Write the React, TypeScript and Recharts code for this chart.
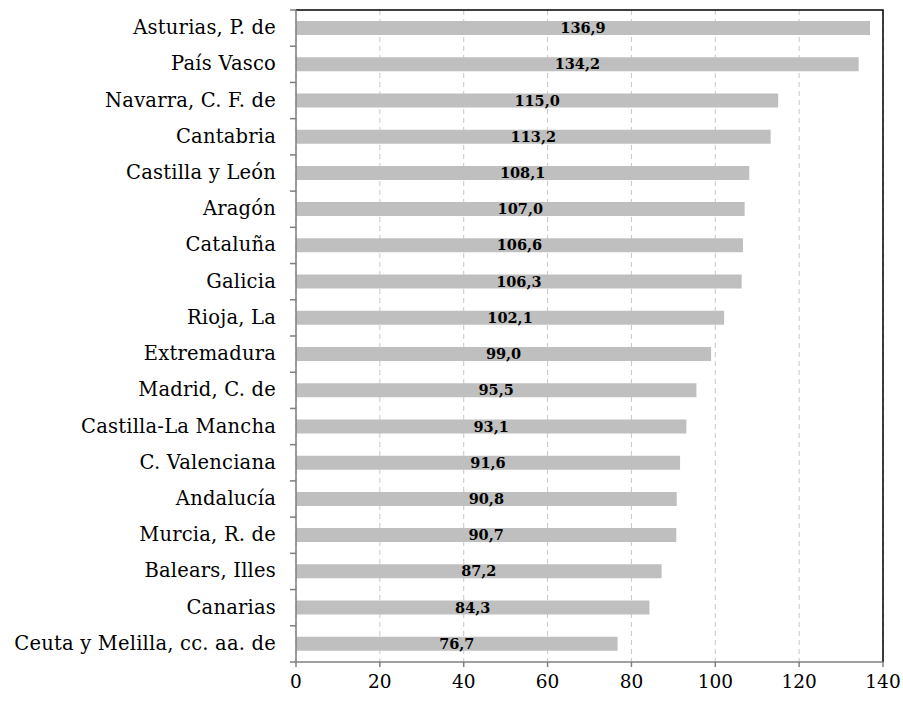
import { BarChart, Bar, XAxis, YAxis, CartesianGrid, LabelList, ReferenceArea } from "recharts";

const regions = [
  "Asturias, P. de",
  "País Vasco",
  "Navarra, C. F. de",
  "Cantabria",
  "Castilla y León",
  "Aragón",
  "Cataluña",
  "Galicia",
  "Rioja, La",
  "Extremadura",
  "Madrid, C. de",
  "Castilla-La Mancha",
  "C. Valenciana",
  "Andalucía",
  "Murcia, R. de",
  "Balears, Illes",
  "Canarias",
  "Ceuta y Melilla, cc. aa. de",
];
const values = [
  136.9, 134.2, 115.0, 113.2, 108.1, 107.0, 106.6, 106.3, 102.1, 99.0, 95.5,
  93.1, 91.6, 90.8, 90.7, 87.2, 84.3, 76.7,
];
const xTicks = [0, 20, 40, 60, 80, 100, 120, 140];

const data = regions.map((name, i) => ({ name, value: values[i] }));

const FONT = "'DejaVu Serif', serif";
const BAND = 652 / regions.length;

const RegionTick = (props: any) => {
  const { x, y, payload, index } = props;
  return (
    <g>
      <line x1={x - 6} x2={x} y1={y - BAND / 2} y2={y - BAND / 2} stroke="#7f7f7f" strokeWidth={1.5} />
      {index === regions.length - 1 && (
        <line x1={x - 6} x2={x} y1={y + BAND / 2} y2={y + BAND / 2} stroke="#7f7f7f" strokeWidth={1.5} />
      )}
      <text x={x - 20} y={y} dy={6} textAnchor="end" fontFamily={FONT} fontSize={19.5} letterSpacing={0.2} fill="#000">
        {payload.value}
      </text>
    </g>
  );
};

const fmt = (v: any) => Number(v).toFixed(1).replace(".", ",");

export default function App() {
  return (
    <div style={{ position: "absolute", left: 0, top: 0, background: "#fff" }}>
      <BarChart
        width={903}
        height={704}
        data={data}
        layout="vertical"
        margin={{ top: 10, right: 20, bottom: 12, left: 0 }}
        barSize={14}
      >
        <CartesianGrid horizontal={false} stroke="#c8c8c8" strokeDasharray="5 4" />
        <ReferenceArea
          x1={0}
          x2={140}
          fill="none"
          stroke="#000"
          strokeWidth={1.5}
          strokeDasharray="1239 5000"
          ifOverflow="visible"
        />
        <XAxis
          type="number"
          domain={[0, 140]}
          ticks={xTicks}
          interval={0}
          height={30}
          axisLine={{ stroke: "#7f7f7f", strokeWidth: 1.5 }}
          tickLine={{ stroke: "#7f7f7f", strokeWidth: 1.5 }}
          tickSize={5}
          tick={{ fontFamily: FONT, fontSize: 18.5, fill: "#000" }}
          tickMargin={8}
        />
        <YAxis
          type="category"
          dataKey="name"
          width={296}
          interval={0}
          axisLine={{ stroke: "#7f7f7f", strokeWidth: 1.5 }}
          tickLine={false}
          tickSize={0}
          tickMargin={0}
          tick={<RegionTick />}
        />
        <Bar dataKey="value" fill="#bfbfbf" isAnimationActive={false}>
          <LabelList
            dataKey="value"
            position="center"
            formatter={fmt}
            style={{ fontFamily: FONT, fontSize: 14.5, fontWeight: "bold", fill: "#000" }}
          />
        </Bar>
      </BarChart>
    </div>
  );
}
